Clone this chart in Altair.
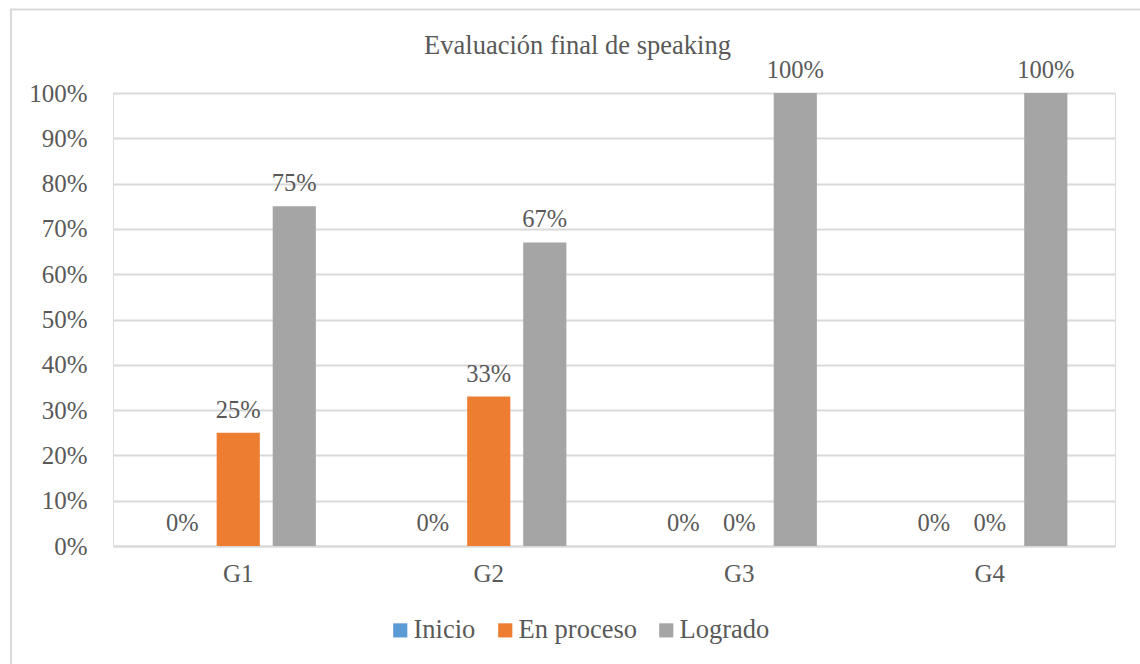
import altair as alt
import pandas as pd

groups = ["G1", "G2", "G3", "G4"]
series = ["Inicio", "En proceso", "Logrado"]
inicio = [0, 0, 0, 0]
en_proceso = [25, 33, 0, 0]
logrado = [75, 67, 100, 100]
colors = ["#5B9BD5", "#ED7D31", "#A5A5A5"]
y_ticks = [0, 10, 20, 30, 40, 50, 60, 70, 80, 90, 100]
title_text = "Evaluación final de speaking"

rows = []
for i, g in enumerate(groups):
    for s, vals in zip(series, [inicio, en_proceso, logrado]):
        rows.append({"grupo": g, "serie": s, "valor": vals[i] / 100.0,
                     "etiqueta": f"{vals[i]}%"})
df = pd.DataFrame(rows)

FONT = "Times New Roman, Liberation Serif, serif"
TXT = "#595959"
GRID = "#D9D9D9"

base = alt.Chart(df)

x_enc = alt.X("grupo:N", sort=groups, title=None,
              scale=alt.Scale(paddingInner=0, paddingOuter=0),
              axis=alt.Axis(labelAngle=0, labelFont=FONT, labelFontSize=25,
                            labelColor=TXT, ticks=False, domain=True,
                            domainColor=GRID, domainWidth=2,
                            labelPadding=15))
xoff = alt.XOffset("serie:N", sort=series,
                   scale=alt.Scale(paddingInner=0.23, paddingOuter=0.85))
y_enc = alt.Y("valor:Q", title=None,
              scale=alt.Scale(domain=[0, 1], nice=False),
              axis=alt.Axis(values=[v / 100 for v in y_ticks], format=".0%",
                            labelFont=FONT, labelFontSize=25, labelColor=TXT,
                            ticks=False, domain=False, grid=True,
                            gridColor=GRID, gridWidth=2, labelPadding=26))

bars = base.mark_bar().encode(
    x=x_enc, xOffset=xoff, y=y_enc,
    color=alt.Color("serie:N", sort=series,
                    scale=alt.Scale(domain=series, range=colors),
                    legend=alt.Legend(title=None, orient="none",
                                      direction="horizontal",
                                      legendX=274, legendY=524,
                                      symbolType="square", symbolSize=200,
                                      symbolStrokeWidth=0, symbolOpacity=1,
                                      labelFont=FONT, labelFontSize=26.5,
                                      labelColor=TXT, labelOffset=0,
                                      columnPadding=16)),
)

labels = base.mark_text(font=FONT, fontSize=24.5, color=TXT,
                        baseline="alphabetic", dy=-15).encode(
    x=alt.X("grupo:N", sort=groups), xOffset=alt.XOffset("serie:N", sort=series),
    y="valor:Q", text="etiqueta:N")

title = alt.Chart(pd.DataFrame({"t": [title_text]})).mark_text(
    font=FONT, fontSize=26.5, color=TXT, baseline="alphabetic", align="center"
).encode(text="t:N", x=alt.value(464.5), y=alt.value(-39))

border = alt.Chart(pd.DataFrame({"a": [0]})).mark_rect(
    fill=None, stroke=GRID, strokeWidth=2
).encode(x=alt.value(-102), x2=alt.value(1100), y=alt.value(-83.5), y2=alt.value(620))

chart = alt.layer(border, bars, labels, title).properties(
    width=1002, height=453,
    padding={"left": 113, "top": 93, "right": 25, "bottom": 118},
    autosize=alt.AutoSizeParams(type="none"),
).configure_view(stroke=None).configure(background="white")

chart.save("out.html", embed_options={"renderer": "svg", "actions": False})
